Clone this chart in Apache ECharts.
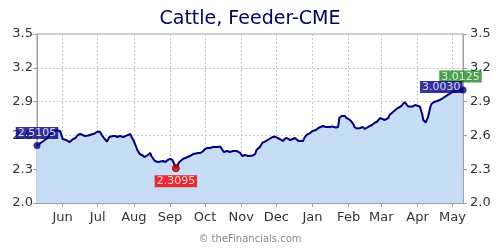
<!DOCTYPE html>
<html>
<head>
<meta charset="utf-8">
<script src="https://cdn.jsdelivr.net/npm/echarts@6/dist/echarts.min.js"></script>
<style>html,body{margin:0;padding:0;background:#fff}#c{width:500px;height:250px}</style>
</head>
<body>
<div id="c"></div>
<script>
const titleText = 'Cattle, Feeder-CME';
const sourceText = '\u00a9 theFinancials.com';
const monthNames = ['Jan','Feb','Mar','Apr','May','Jun','Jul','Aug','Sep','Oct','Nov','Dec'];
const xStart = '2024-05-10';
const xEnd = '2025-05-10';
const yMin = 2.0, yMax = 3.5, yStep = 0.3;

const dates = [
'2024-05-10','2024-05-13','2024-05-15','2024-05-19','2024-05-21','2024-05-24','2024-05-27','2024-05-30',
'2024-06-01','2024-06-04','2024-06-07','2024-06-10','2024-06-12','2024-06-14','2024-06-16','2024-06-18','2024-06-20','2024-06-23','2024-06-24','2024-06-27','2024-06-29',
'2024-07-01','2024-07-03','2024-07-05','2024-07-07','2024-07-09','2024-07-11','2024-07-14','2024-07-16','2024-07-18','2024-07-20','2024-07-23','2024-07-24','2024-07-27','2024-07-29','2024-07-30',
'2024-08-01','2024-08-03','2024-08-04','2024-08-06','2024-08-08','2024-08-10','2024-08-13','2024-08-15','2024-08-16','2024-08-19','2024-08-22','2024-08-23','2024-08-26','2024-08-28','2024-08-30',
'2024-09-01','2024-09-03','2024-09-05','2024-09-06','2024-09-08','2024-09-09','2024-09-12','2024-09-14','2024-09-16','2024-09-18','2024-09-21','2024-09-22','2024-09-25','2024-09-27','2024-09-29',
'2024-10-01','2024-10-03','2024-10-05','2024-10-08','2024-10-09','2024-10-12','2024-10-14','2024-10-15','2024-10-17','2024-10-20','2024-10-22','2024-10-25','2024-10-28','2024-10-31',
'2024-11-02','2024-11-04','2024-11-07','2024-11-08','2024-11-11','2024-11-13','2024-11-14','2024-11-17','2024-11-19','2024-11-22','2024-11-25','2024-11-28','2024-11-30',
'2024-12-02','2024-12-04','2024-12-07','2024-12-08','2024-12-10','2024-12-13','2024-12-15','2024-12-17','2024-12-20','2024-12-21','2024-12-24','2024-12-25','2024-12-27','2024-12-30',
'2025-01-01','2025-01-04','2025-01-06','2025-01-07','2025-01-10','2025-01-12','2025-01-13','2025-01-16','2025-01-18','2025-01-21','2025-01-23','2025-01-24','2025-01-26','2025-01-29','2025-01-30',
'2025-02-01','2025-02-03','2025-02-05','2025-02-06','2025-02-08','2025-02-09','2025-02-11','2025-02-13','2025-02-15','2025-02-17','2025-02-19','2025-02-21','2025-02-23','2025-02-25','2025-02-28',
'2025-03-01','2025-03-04','2025-03-07','2025-03-08','2025-03-11','2025-03-13','2025-03-15','2025-03-17','2025-03-19','2025-03-21','2025-03-24','2025-03-25','2025-03-28','2025-03-30','2025-03-31',
'2025-04-03','2025-04-05','2025-04-06','2025-04-08','2025-04-10','2025-04-12','2025-04-13','2025-04-15','2025-04-18','2025-04-20','2025-04-23','2025-04-24','2025-04-27','2025-04-29',
'2025-05-01','2025-05-03','2025-05-06','2025-05-07','2025-05-09','2025-05-10'
];
const prices = [
2.5105,2.533,2.546,2.577,2.604,2.630,2.648,2.635,
2.568,2.559,2.541,2.568,2.577,2.604,2.612,2.604,2.595,2.599,2.604,2.612,2.621,
2.635,2.630,2.595,2.568,2.546,2.586,2.595,2.595,2.586,2.595,2.586,2.577,2.604,2.612,2.586,
2.550,2.497,2.470,2.435,2.426,2.408,2.426,2.444,2.417,2.373,2.364,2.355,2.373,2.364,2.382,
2.391,2.382,2.337,2.3095,2.346,2.364,2.391,2.399,2.408,2.417,2.435,2.444,2.444,2.444,2.457,
2.479,2.488,2.488,2.497,2.501,2.497,2.501,2.497,2.453,2.462,2.453,2.462,2.462,2.444,
2.417,2.426,2.417,2.426,2.422,2.435,2.470,2.497,2.533,2.550,2.568,2.586,2.590,
2.577,2.568,2.550,2.568,2.577,2.559,2.568,2.577,2.550,2.546,2.550,2.577,2.604,2.621,
2.639,2.648,2.666,2.661,2.683,2.675,2.679,2.675,2.679,2.670,2.675,2.754,2.772,2.772,2.754,
2.746,2.728,2.701,2.675,2.661,2.648,2.666,2.675,2.657,2.670,2.683,2.692,2.710,2.719,2.754,
2.737,2.737,2.754,2.781,2.808,2.825,2.843,2.852,2.870,2.896,2.857,2.870,2.857,2.870,2.879,
2.857,2.790,2.737,2.714,2.763,2.852,2.879,2.896,2.905,2.914,2.932,2.941,2.959,2.972,
2.985,2.990,3.003,3.0125,3.008,3.0030
];

const FONT = '"DejaVu Sans", Verdana, sans-serif';
const lineData = dates.map((d, i) => [d, prices[i]]);
let iMin = 0, iMax = 0;
prices.forEach((v, i) => { if (v < prices[iMin]) iMin = i; if (v > prices[iMax]) iMax = i; });
const iLast = prices.length - 1;

function lbl(bg, pos, dist, extra) {
  return Object.assign({
    show: true, position: pos, distance: dist,
    formatter: p => p.value[1].toFixed(4),
    color: '#fff', backgroundColor: bg, fontFamily: FONT, fontSize: 11,
    lineHeight: 11, padding: [1, 2, 0, 2]
  }, extra || {});
}

const markers = [
  { value: lineData[iMax], symbolSize: 1, itemStyle: { color: 'rgba(0,0,0,0)' }, label: lbl('#1f8a1f', 'top', 6, { offset: [1, 0] }) },
  { value: lineData[0], itemStyle: { color: '#000080' }, label: lbl('#000080', 'top', 3) },
  { value: lineData[iMin], itemStyle: { color: '#dd0000', borderColor: '#800000', borderWidth: 1 }, label: lbl('#ee0000', 'bottom', 3) },
  { value: lineData[iLast], itemStyle: { color: '#000080' }, label: lbl('#000080', 'left', -3, { offset: [0, -3] }) }
];

const yAxisCommon = {
  type: 'value', min: yMin, max: yMax, interval: yStep,
  axisLine: { show: true, lineStyle: { color: '#a0a0a0' } },
  axisTick: { show: true, length: 4, lineStyle: { color: '#a0a0a0' } },
  axisLabel: { color: '#333', fontFamily: FONT, fontSize: 13, formatter: v => v.toFixed(1) }
};

const chart = echarts.init(document.getElementById('c'), null, { renderer: 'canvas' });
chart.setOption({
  animation: false,
  backgroundColor: '#fff',
  title: [
    { text: titleText, left: 'center', top: 5, textStyle: { color: '#000066', fontFamily: FONT, fontSize: 19, fontWeight: 'normal' } },
    { text: sourceText, left: 'center', top: 229, textStyle: { color: '#888', fontFamily: FONT, fontSize: 10, fontWeight: 'normal' } }
  ],
  grid: { left: 37, right: 37, top: 34, bottom: 47, show: true, borderColor: '#a0a0a0', borderWidth: 1, backgroundColor: 'transparent' },
  xAxis: {
    type: 'time', min: xStart, max: xEnd, splitNumber: 12,
    minInterval: 28 * 86400000, maxInterval: 31 * 86400000,
    axisLine: { show: true, lineStyle: { color: '#a0a0a0' } },
    axisTick: { show: true, length: 4, lineStyle: { color: '#a0a0a0' } },
    splitLine: { show: true, lineStyle: { color: '#c8c8c8', type: [2, 2] } },
    axisLabel: { color: '#333', fontFamily: FONT, fontSize: 13, margin: 8, showMinLabel: false, showMaxLabel: false,
      formatter: v => monthNames[new Date(v).getMonth()] }
  },
  yAxis: [
    Object.assign({}, yAxisCommon, { position: 'left', axisLabel: Object.assign({}, yAxisCommon.axisLabel, { margin: 4 }),
      splitLine: { show: true, lineStyle: { color: '#c8c8c8', type: [2, 2] } } }),
    Object.assign({}, yAxisCommon, { position: 'right', axisLabel: Object.assign({}, yAxisCommon.axisLabel, { margin: 7 }),
      splitLine: { show: false } })
  ],
  series: [
    { type: 'line', data: lineData, showSymbol: false, symbol: 'none', smooth: false,
      lineStyle: { color: '#000080', width: 2 }, areaStyle: { color: '#c7ddf6', opacity: 1 }, z: 2 },
    { type: 'scatter', data: markers, symbolSize: 7, clip: false, z: 5 }
  ]
});
</script>
</body>
</html>
